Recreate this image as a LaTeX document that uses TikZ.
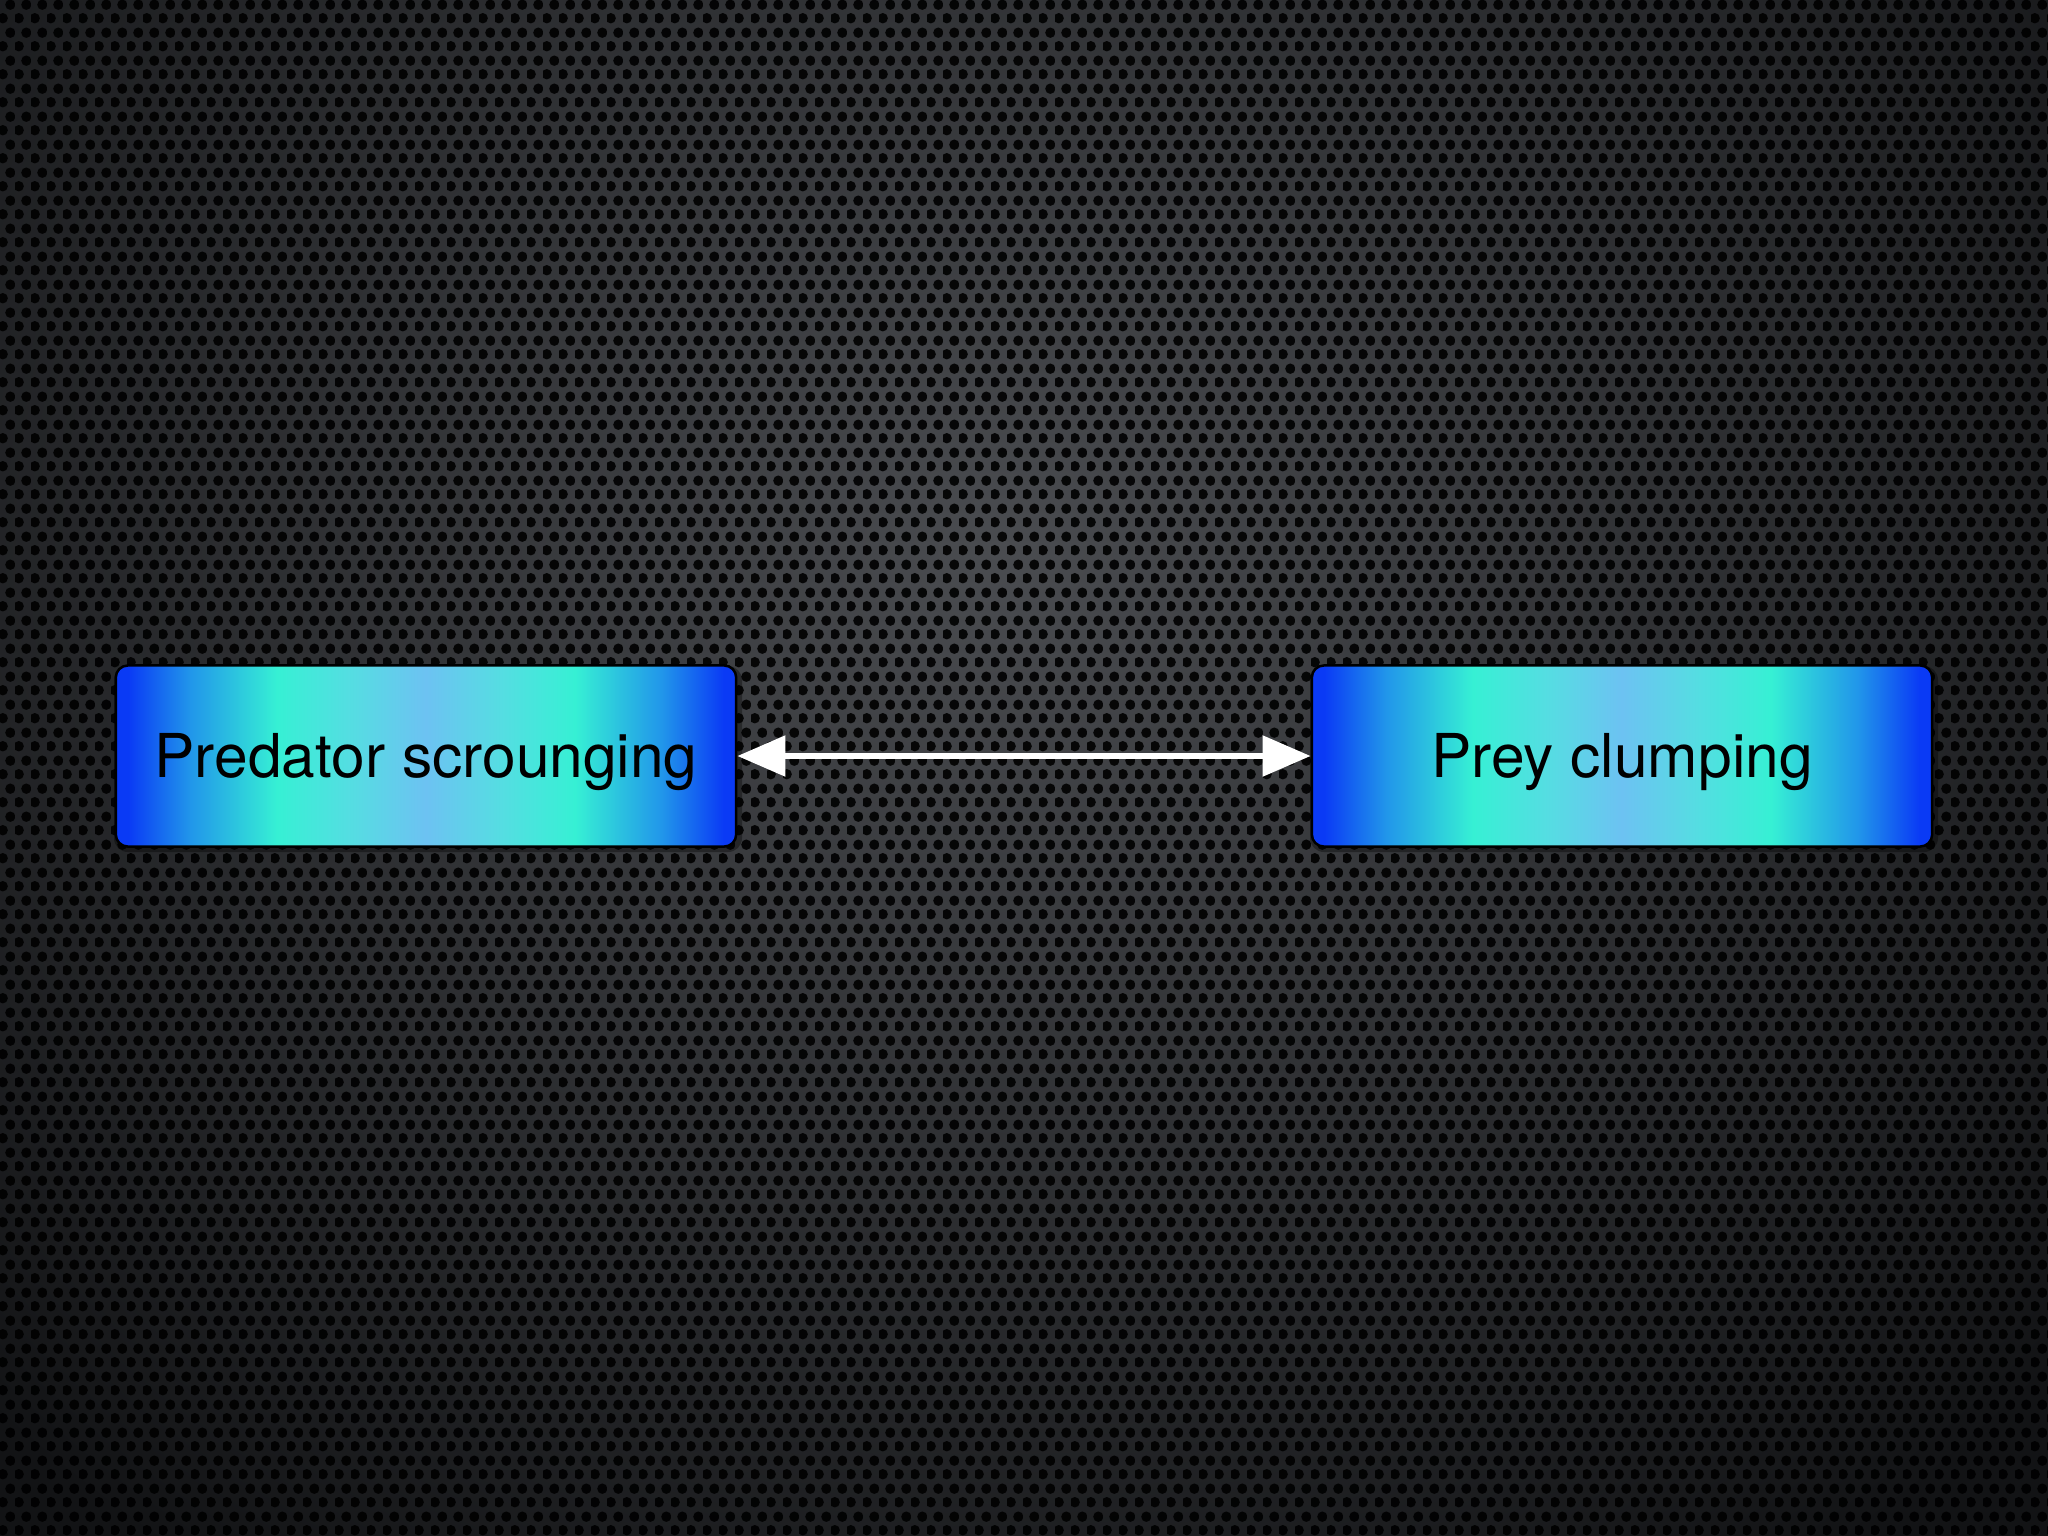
\documentclass[tikz,border=0pt]{standalone}
\usepackage{fontspec}
\setmainfont{TeX Gyre Heros}
\usetikzlibrary{arrows.meta,patterns.meta}
\definecolor{bgin}{HTML}{4A4C50}
\definecolor{bgout}{HTML}{121315}
\definecolor{edgeblue}{HTML}{0A3AF5}
\definecolor{midblue}{HTML}{2196EA}
\definecolor{aqua}{HTML}{36F0D4}
\definecolor{aquab}{HTML}{55DDE2}
\definecolor{centerblue}{HTML}{6CC2F2}
\pgfdeclareradialshading{bgshade}{\pgfpoint{0bp}{0bp}}{color(0bp)=(bgin); color(25bp)=(bgout); color(50bp)=(bgout)}
\pgfdeclarehorizontalshading{boxshade}{100bp}{color(0bp)=(edgeblue); color(26bp)=(edgeblue); color(31bp)=(midblue); color(38bp)=(aqua); color(44bp)=(aquab); color(50bp)=(centerblue); color(56bp)=(aquab); color(62bp)=(aqua); color(69bp)=(midblue); color(74bp)=(edgeblue); color(100bp)=(edgeblue)}
\tikzdeclarepattern{
  name=holes,
  type=uncolored,
  bounding box={(0cm,0cm) and (0.16cm,0.28cm)},
  tile size={(0.16cm,0.28cm)},
  code={
    \fill (0.04cm,0.07cm) circle (0.054cm);
    \fill (0.12cm,0.21cm) circle (0.054cm);
  }
}
\tikzset{
  x=0.01cm, y=-0.01cm,
  boxnode/.style={shading=boxshade, draw=black, line width=0.025cm,
    rounded corners=0.12cm, minimum width=6.2cm, minimum height=1.81cm,
    inner sep=0pt, font=\fontsize{17.2pt}{20pt}\selectfont,
    text height=12.4pt, text depth=0pt, text=black},
  link/.style={draw=white, line width=0.055cm, line cap=round,
    {Triangle[length=0.48cm,width=0.40cm]}-{Triangle[length=0.48cm,width=0.40cm]}}
}
\begin{document}
\begin{tikzpicture}
\useasboundingbox (0,0) rectangle (2048,1536);
\begin{scope}
  \clip (0,0) rectangle (2048,1536);
  \fill[bgout] (0,0) rectangle (2048,1536);
  \shade[shading=bgshade] (-400,-700) rectangle (2400,1800);
  \fill[pattern=holes, pattern color=black, fill opacity=0.9] (0,0) rectangle (2048,1536);
\end{scope}
\fill[black, opacity=0.35, rounded corners=0.14cm] (114,666) rectangle (742,852);
\fill[black, opacity=0.35, rounded corners=0.14cm] (1310,666) rectangle (1938,852);
\node[boxnode] (pred) at (426,756) {Predator scrounging};
\node[boxnode] (prey) at (1622,756) {Prey clumping};
\draw[link] (pred.east) -- (prey.west);
\end{tikzpicture}
\end{document}
